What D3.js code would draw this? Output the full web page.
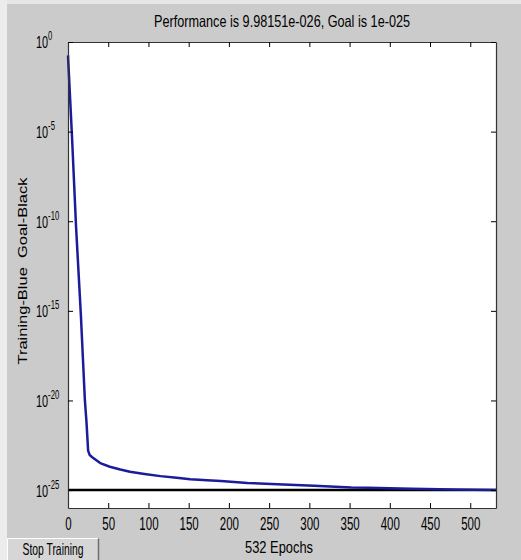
<!DOCTYPE html>
<html>
<head>
<meta charset="utf-8">
<script src="https://cdn.jsdelivr.net/npm/d3@7"></script>
<style>
  body { margin: 0; background: #cbcbcb; }
  svg { display: block; font-family: "Liberation Sans", Arial, sans-serif; }
</style>
</head>
<body>
<svg id="chart" width="521" height="560"></svg>
<script>
// training record
const epochs = [0, 2, 5, 10, 16, 21, 23, 25, 27, 31, 40, 52, 65, 77, 95, 115, 135, 152, 173, 190, 223, 260, 306, 352, 373, 427, 480, 532];
const performance = [1.8e-1, 2.5e-3, 5e-6, 5e-11, 6e-16, 1e-20, 6e-22, 1.6e-23, 9e-24, 6.3e-24, 3.2e-24, 2e-24, 1.4e-24, 1.05e-24,
  8e-25, 6e-25, 4.8e-25, 4e-25, 3.5e-25, 3.2e-25, 2.5e-25, 2.1e-25, 1.75e-25, 1.4e-25, 1.35e-25, 1.17e-25, 1.07e-25, 9.98151e-26];
const goal = 1e-25;

const xTicks = [0, 50, 100, 150, 200, 250, 300, 350, 400, 450, 500];
const yTicks = [1e0, 1e-5, 1e-10, 1e-15, 1e-20, 1e-25];
const yExponents = ["0", "-5", "-10", "-15", "-20", "-25"];

const titleText = "Performance is 9.98151e-026, Goal is 1e-025";
const yLabelText = "Training-Blue  Goal-Black";
const xLabelText = "532 Epochs";
const buttonText = "Stop Training";

const margin = { top: 42, right: 25, bottom: 52, left: 68 };
const W = 521, H = 560;
const width = W - margin.left - margin.right;
const height = H - margin.top - margin.bottom;

const svg = d3.select("#chart");

// light strips along left and top edge of the capture
svg.append("rect").attr("x", 0).attr("y", 0).attr("width", W).attr("height", 4).attr("fill", "#e6e6e6");
svg.append("rect").attr("x", 0).attr("y", 0).attr("width", 7).attr("height", H).attr("fill", "#ececec");

const g = svg.append("g").attr("transform", `translate(${margin.left},${margin.top})`);

const x = d3.scaleLinear().domain([0, 532]).range([0, width]);
const y = d3.scaleLog().domain([1e-26, 1]).range([height, 0]);

g.append("rect").attr("width", width).attr("height", height).attr("fill", "#ffffff");

// goal line
g.append("line")
    .attr("x1", 0).attr("x2", width)
    .attr("y1", y(goal)).attr("y2", y(goal))
    .attr("stroke", "#000").attr("stroke-width", 2.5);

// training curve
const line = d3.line()
    .x((d, i) => x(epochs[i]))
    .y(d => y(d));

g.append("path")
    .datum(performance)
    .attr("d", line)
    .attr("fill", "none")
    .attr("stroke", "#1c1c9a")
    .attr("stroke-width", 2.5)
    .attr("stroke-linejoin", "round");

// axes, ticks inside like matlab
const tickLen = 5;

const xAxis = g.append("g")
    .attr("transform", `translate(0,${height})`)
    .call(d3.axisBottom(x).tickValues(xTicks).tickSize(-tickLen).tickPadding(9).tickSizeOuter(0));

xAxis.selectAll("text")
    .attr("font-size", 18)
    .attr("fill", "#000")
    .attr("dy", "0.71em")
    .attr("textLength", d => String(d).length * 6.4)
    .attr("lengthAdjust", "spacingAndGlyphs");

g.append("g")
    .call(d3.axisTop(x).tickValues(xTicks).tickSize(-tickLen).tickFormat("").tickSizeOuter(0));

const yAxis = g.append("g")
    .call(d3.axisLeft(y).tickValues(yTicks).tickSize(-tickLen).tickFormat("").tickSizeOuter(0));

g.append("g")
    .attr("transform", `translate(${width},0)`)
    .call(d3.axisRight(y).tickValues(yTicks).tickSize(-tickLen).tickFormat("").tickSizeOuter(0));

g.selectAll(".domain").attr("stroke", "#333").attr("stroke-width", 1.2);
g.selectAll(".tick line").attr("stroke", "#000");

// y labels: 10 with raised exponent, squeezed sideways
yAxis.selectAll(".tick").each(function(d, i) {
  const lbl = d3.select(this).append("g")
      .attr("transform", "translate(-32,0) scale(0.64,1)")
      .append("text")
      .attr("dy", "0.35em")
      .attr("text-anchor", "start")
      .attr("font-size", 17)
      .attr("fill", "#000");
  lbl.append("tspan").text("10");
  lbl.append("tspan").attr("font-size", 12).attr("dy", -8).text(yExponents[i]);
});

// title and axis labels
svg.append("text")
    .attr("x", margin.left + width / 2).attr("y", 27)
    .attr("text-anchor", "middle")
    .attr("font-size", 16.5)
    .attr("textLength", 256)
    .attr("lengthAdjust", "spacingAndGlyphs")
    .text(titleText);

svg.append("text")
    .attr("transform", "translate(27,271) rotate(-90) scale(1,0.8)")
    .attr("text-anchor", "middle")
    .attr("font-size", 16)
    .attr("textLength", 187)
    .attr("lengthAdjust", "spacingAndGlyphs")
    .style("white-space", "pre")
    .text(yLabelText);

svg.append("text")
    .attr("x", 279).attr("y", 553)
    .attr("text-anchor", "middle")
    .attr("font-size", 17)
    .attr("textLength", 68)
    .attr("lengthAdjust", "spacingAndGlyphs")
    .text(xLabelText);

// stop training button
const btn = svg.append("g").attr("transform", "translate(7,538)");
btn.append("rect").attr("width", 92).attr("height", 22).attr("fill", "#d6d6d6");
btn.append("path").attr("d", "M0.5,22 V0.5 H91.5").attr("fill", "none").attr("stroke", "#ffffff");
btn.append("path").attr("d", "M91.5,0.5 V22").attr("fill", "none").attr("stroke", "#6e6e6e").attr("stroke-width", 1.5);
btn.append("text")
    .attr("x", 46).attr("y", 16.5)
    .attr("text-anchor", "middle")
    .attr("font-size", 16.5)
    .attr("textLength", 61)
    .attr("lengthAdjust", "spacingAndGlyphs")
    .text(buttonText);
</script>
</body>
</html>
